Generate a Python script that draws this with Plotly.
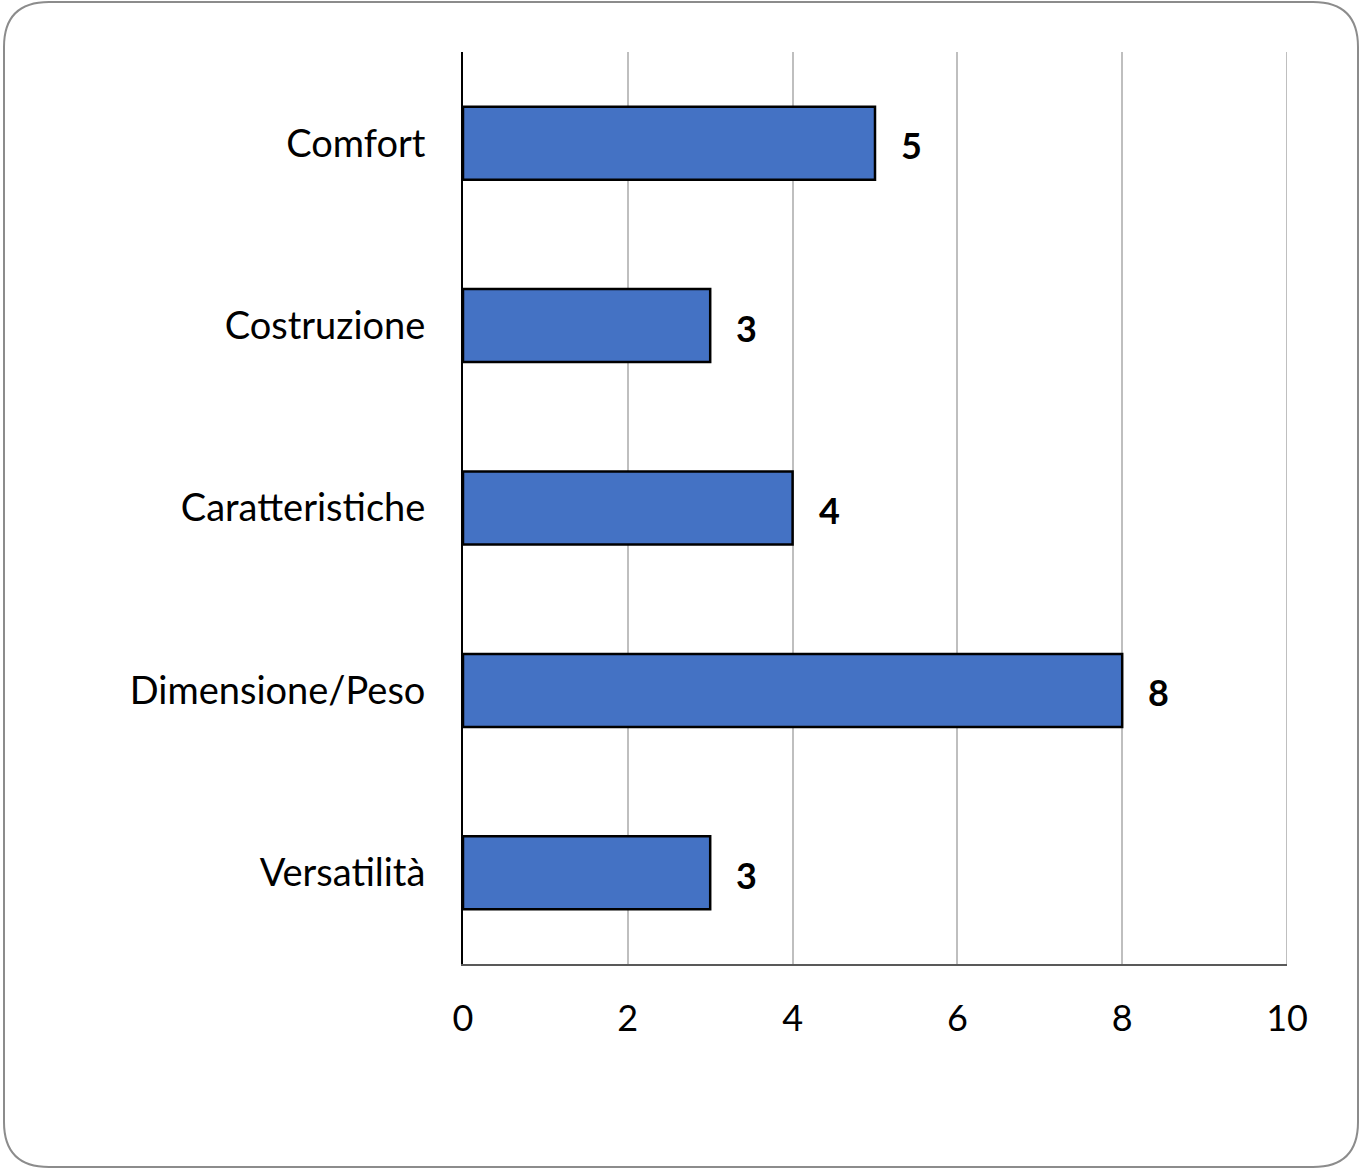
import plotly.graph_objects as go

categories = ["Comfort", "Costruzione", "Caratteristiche", "Dimensione/Peso", "Versatilità"]
values = [5, 3, 4, 8, 3]
x_ticks = [0, 2, 4, 6, 8, 10]

W, H = 1365, 1173
L, R, T, B = 463, 78, 52, 209
pw, ph = W - L - R, H - T - B

FONT = "Lato"

fig = go.Figure()
fig.add_trace(go.Bar(
    y=categories, x=values, orientation="h",
    marker=dict(color="#4472C4", line=dict(color="#000000", width=2.5)),
    hoverinfo="skip",
))

for c, v in zip(categories, values):
    fig.add_annotation(x=v, y=c, text=f"<b>{v}</b>", showarrow=False,
                       xanchor="left", yanchor="middle", xshift=24, yshift=-2,
                       font=dict(family=FONT, size=36, color="#000000"))

# gridline at the right end of the axis range
fig.add_shape(type="line", x0=x_ticks[-1], x1=x_ticks[-1], y0=0, y1=1,
              xref="x", yref="paper", line=dict(color="#bfbfbf", width=2),
              layer="below")

# rounded border around the chart (pixel -> paper conversion)
def px(xp):
    return (xp - L) / pw

def py(yp):
    return (H - B - yp) / ph

x0, x1, y0, y1, r = 4, 1358, 2, 1167, 45
path = (f"M {px(x0 + r)} {py(y0)} L {px(x1 - r)} {py(y0)} "
        f"Q {px(x1)} {py(y0)} {px(x1)} {py(y0 + r)} "
        f"L {px(x1)} {py(y1 - r)} Q {px(x1)} {py(y1)} {px(x1 - r)} {py(y1)} "
        f"L {px(x0 + r)} {py(y1)} Q {px(x0)} {py(y1)} {px(x0)} {py(y1 - r)} "
        f"L {px(x0)} {py(y0 + r)} Q {px(x0)} {py(y0)} {px(x0 + r)} {py(y0)} Z")
fig.add_shape(type="path", path=path, xref="paper", yref="paper",
              line=dict(color="#8c8c8c", width=2), layer="below")

fig.update_layout(
    width=W, height=H,
    margin=dict(l=L, r=R, t=T, b=B, autoexpand=False),
    paper_bgcolor="white", plot_bgcolor="white",
    bargap=0.6, showlegend=False,
    font=dict(family=FONT, size=36, color="#000000"),
)
fig.update_xaxes(
    range=[0, 10], tickvals=x_ticks, ticktext=[str(t) for t in x_ticks],
    showgrid=True, gridcolor="#bfbfbf", gridwidth=2,
    showline=True, linecolor="#595959", linewidth=2,
    zeroline=False, ticks="", ticklabelstandoff=22,
    tickfont=dict(family=FONT, size=36, color="#000000"),
)
fig.update_yaxes(
    autorange="reversed", showgrid=False,
    showline=True, linecolor="#000000", linewidth=2,
    ticks="", ticklabelstandoff=28,
    tickfont=dict(family=FONT, size=38, color="#000000"),
)

fig.write_html("out.html", config={"displayModeBar": False},
               post_script="document.body.style.margin='0';document.body.style.padding='0';")
